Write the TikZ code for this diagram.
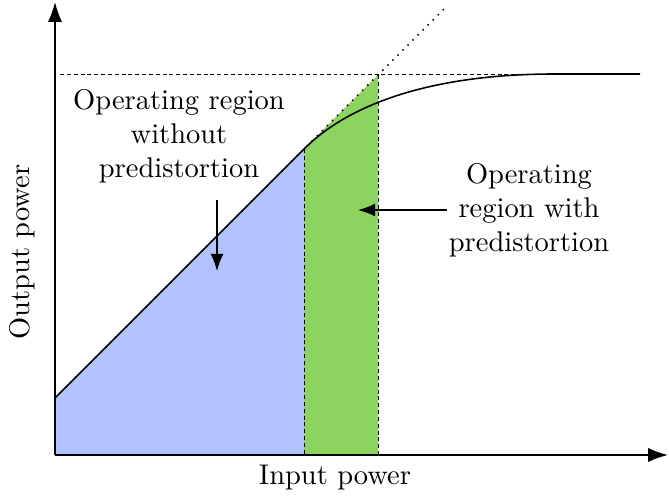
\documentclass[tikz,border=0pt]{standalone}
\usetikzlibrary{arrows.meta}
\definecolor{regionblue}{RGB}{178,194,255}
\definecolor{regiongreen}{RGB}{141,211,95}
\tikzset{
  axis/.style={semithick,-{Latex[length=7pt,width=5pt]}},
  guide/.style={dash pattern=on 1.4pt off 1pt,line width=0.35pt},
  ideal/.style={dotted,line width=0.5pt},
  response/.style={line width=0.55pt},
  pointer/.style={line width=0.45pt,-{Latex[length=6pt,width=4.5pt]}},
  label/.style={align=center,inner sep=0pt}
}
\begin{document}
\begin{tikzpicture}[x=0.351pt,y=-0.351pt]
  \useasboundingbox (0,0) rectangle (669,497);

  % key points of the characteristic (pixel-like grid, y downward)
  \coordinate (O) at (55,455);
  \coordinate (lin0) at (55,398);
  \coordinate (knee) at (304,149);
  \coordinate (sat) at (378,75);
  \coordinate (idealend) at (445,8);
  \coordinate (curveend) at (640,74);

  % shaded operating regions
  \fill[regionblue] (O) -- (lin0) -- (knee) -- (304,455) -- cycle;
  \fill[regiongreen] (304,455) -- (knee) -- (sat) -- (378,455) -- cycle;

  % guide lines
  \draw[guide] (60,75) -- (640,75);
  \draw[guide] (knee) -- (304,455);
  \draw[guide] (sat) -- (378,455);

  % ideal linear response
  \draw[ideal] (lin0) -- (idealend);

  % amplifier response with saturation
  \draw[response] (lin0) -- (knee)
    .. controls (346,107) and (425,74) .. (555,74) -- (curveend);

  % axes
  \draw[axis] (O) -- (668,455);
  \draw[axis] (O) -- (55,2);

  % labels
  \node[label] (xlab) at (335,478) {Input power};
  \node[label,rotate=90] (ylab) at (22,252) {Output power};
  \node[label] (without) at (179,136) {Operating region\\without\\predistortion};
  \node[label] (with) at (529,210) {Operating\\region with\\predistortion};

  % pointers into the regions
  \coordinate (p1s) at (217,200);
  \coordinate (p1e) at (217,271);
  \coordinate (p2s) at (447,210);
  \coordinate (p2e) at (358,210);
  \draw[pointer] (p1s) -- (p1e);
  \draw[pointer] (p2s) -- (p2e);
\end{tikzpicture}
\end{document}
